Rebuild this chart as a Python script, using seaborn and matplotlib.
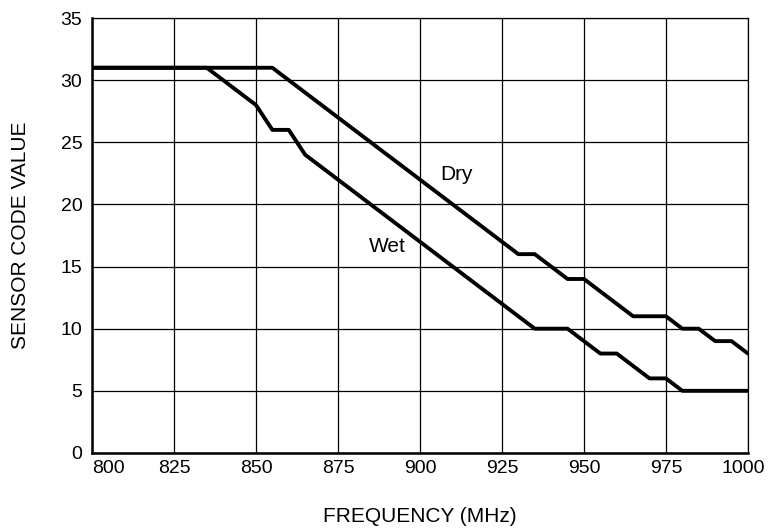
import matplotlib
matplotlib.use("Agg")
import matplotlib.pyplot as plt
import matplotlib.transforms as mtransforms
import seaborn as sns
import pandas as pd

# Sensor code vs frequency
dry_freq = [800, 855, 930, 935, 945, 950, 965, 975, 980, 985, 990, 995, 1000]
dry_code = [31, 31, 16, 16, 14, 14, 11, 11, 10, 10, 9, 9, 8]

wet_freq = [800, 835, 850, 855, 860, 865, 935, 945, 955, 960, 970, 975, 980, 1000]
wet_code = [31, 31, 28, 26, 26, 24, 10, 10, 8, 8, 6, 6, 5, 5]

x_ticks = [800, 825, 850, 875, 900, 925, 950, 975, 1000]
y_ticks = [0, 5, 10, 15, 20, 25, 30, 35]

df = pd.concat([
    pd.DataFrame({"freq": dry_freq, "code": dry_code, "cond": "Dry"}),
    pd.DataFrame({"freq": wet_freq, "code": wet_code, "cond": "Wet"}),
])

sns.set_style("white")
plt.rcParams["font.family"] = ["Liberation Sans", "DejaVu Sans"]
plt.rcParams["text.color"] = "black"
plt.rcParams["axes.labelcolor"] = "black"
plt.rcParams["xtick.color"] = "black"
plt.rcParams["ytick.color"] = "black"

fs = 15
tick_fs = 14

fig = plt.figure(figsize=(7.69, 5.31), dpi=100)
ax = fig.add_axes([0.1196, 0.147, 0.853, 0.819])

sns.lineplot(data=df, x="freq", y="code", units="cond", estimator=None,
             color="black", linewidth=2.8, sort=False, ax=ax)

ax.set_xlim(800, 1000)
ax.set_ylim(0, 35)
ax.set_xticks(x_ticks)
ax.set_yticks(y_ticks)
ax.set_xticklabels([str(t) for t in x_ticks], fontsize=tick_fs)
ax.set_yticklabels([str(t) for t in y_ticks], fontsize=tick_fs)
ax.tick_params(axis="x", length=0, pad=5)
ax.tick_params(axis="y", length=0, pad=7)

# first label sits inside the left edge, last one pulled in a little
xlabels = ax.get_xticklabels()
xlabels[0].set_horizontalalignment("left")
shift = mtransforms.ScaledTranslation(-5 / 100, 0, fig.dpi_scale_trans)
xlabels[-1].set_transform(xlabels[-1].get_transform() + shift)

ax.grid(True, color="black", linewidth=0.9)

for side in ["top", "right"]:
    ax.spines[side].set_linewidth(0.9)
    ax.spines[side].set_color("black")
for side in ["left", "bottom"]:
    ax.spines[side].set_linewidth(1.8)
    ax.spines[side].set_color("black")

ax.set_xlabel("FREQUENCY (MHz)", fontsize=fs, labelpad=22)
ax.set_ylabel("SENSOR CODE VALUE", fontsize=fs, labelpad=22)

ax.text(911, 22.4, "Dry", fontsize=fs, ha="center", va="center")
ax.text(890, 16.6, "Wet", fontsize=fs, ha="center", va="center")

fig.savefig("out.png", dpi=100)
